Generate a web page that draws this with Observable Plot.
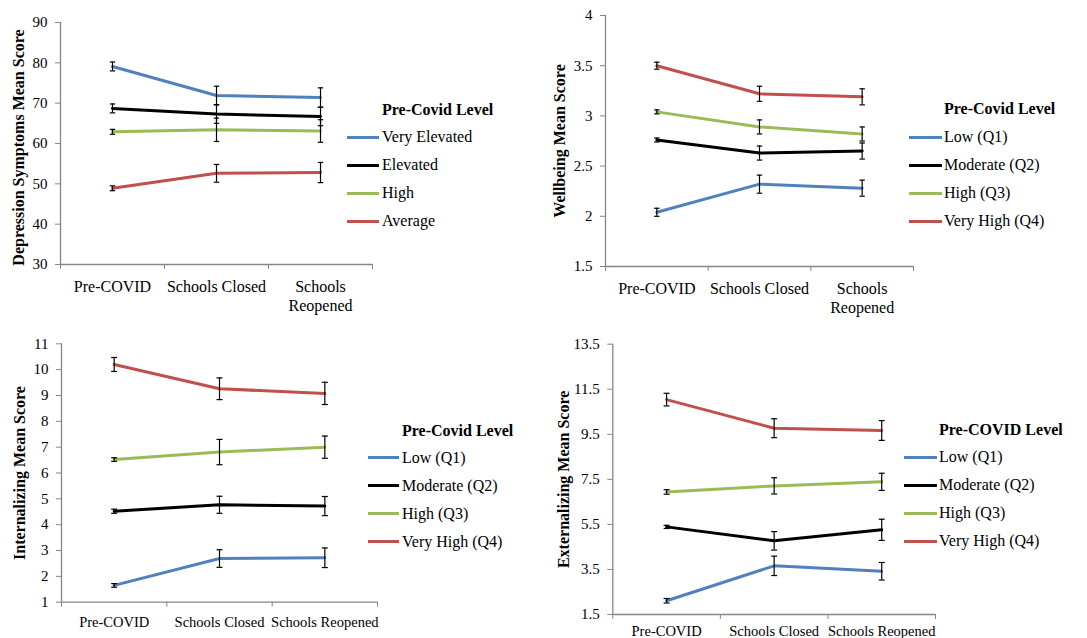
<!DOCTYPE html>
<html>
<head>
<meta charset="utf-8">
<script src="https://cdn.jsdelivr.net/npm/d3@7"></script>
<script src="https://cdn.jsdelivr.net/npm/@observablehq/plot@0.6"></script>
<style>
  html, body { margin: 0; padding: 0; background: #fff; overflow: hidden; }
  #root { position: relative; width: 1087px; height: 638px; font-family: 'Liberation Serif', 'Times New Roman', serif; color: #000; }
  .panel { position: absolute; }
  .lg-title { position: absolute; font-weight: bold; font-size: 16px; line-height: 20px; white-space: nowrap; }
  .lg-item { position: absolute; font-size: 16px; line-height: 20px; white-space: nowrap; }
  .lg-swatch { position: absolute; height: 3px; }
</style>
</head>
<body>
<div id="root"></div>
<script>
// ---------- data ----------
const periods = ["Pre-COVID", "Schools Closed", "Schools Reopened"];
const topTickLabels = ["Pre-COVID", "Schools Closed", "Schools\nReopened"];
const bottomTickLabels = ["Pre-COVID", "Schools Closed", "Schools Reopened"];

const depressionLevels = ["Very Elevated", "Elevated", "High", "Average"];
const quartileLevels = ["Low (Q1)", "Moderate (Q2)", "High (Q3)", "Very High (Q4)"];
const depressionColors = ["#4f81bd", "#000000", "#9bbb59", "#c0504d"];
const quartileColors = ["#4f81bd", "#000000", "#9bbb59", "#c0504d"];

const depressionMeans = [[79.1, 71.9, 71.4], [68.7, 67.3, 66.7], [62.9, 63.4, 63.1], [48.9, 52.6, 52.8]];
const depressionErrors = [[1.1, 2.3, 2.4], [1.1, 2.3, 2.3], [0.6, 2.9, 2.8], [0.6, 2.2, 2.5]];
const depressionTicks = [30, 40, 50, 60, 70, 80, 90];

const wellbeingMeans = [[2.04, 2.32, 2.28], [2.76, 2.63, 2.65], [3.04, 2.89, 2.82], [3.50, 3.22, 3.19]];
const wellbeingErrors = [[0.04, 0.09, 0.08], [0.02, 0.07, 0.08], [0.02, 0.07, 0.07], [0.035, 0.075, 0.08]];
const wellbeingTicks = [1.5, 2, 2.5, 3, 3.5, 4];

const internalizingMeans = [[1.65, 2.69, 2.72], [4.52, 4.77, 4.72], [6.52, 6.81, 7.0], [10.2, 9.26, 9.08]];
const internalizingErrors = [[0.07, 0.34, 0.38], [0.08, 0.33, 0.37], [0.07, 0.49, 0.43], [0.27, 0.42, 0.43]];
const internalizingTicks = [1, 2, 3, 4, 5, 6, 7, 8, 9, 10, 11];

const externalizingMeans = [[2.11, 3.66, 3.42], [5.39, 4.77, 5.26], [6.94, 7.21, 7.39], [11.04, 9.77, 9.67]];
const externalizingErrors = [[0.1, 0.43, 0.39], [0.07, 0.41, 0.47], [0.1, 0.36, 0.38], [0.28, 0.42, 0.44]];
const externalizingTicks = [1.5, 3.5, 5.5, 7.5, 9.5, 11.5, 13.5];

// ---------- drawing ----------
const gray = "#868686";
const root = document.getElementById("root");

function panel(cfg) {
  const data = [];
  cfg.levels.forEach((s, k) => cfg.means[k].forEach((v, i) => data.push({s, i, v, e: cfg.errors[k][i]})));
  const yMin = cfg.yTicks[0], yMax = cfg.yTicks[cfg.yTicks.length - 1];
  const cap = {draw(ctx) { ctx.moveTo(-cfg.cap, 0); ctx.lineTo(cfg.cap, 0); }};
  const svg = Plot.plot({
    width: cfg.width, height: cfg.height,
    marginLeft: cfg.mL, marginRight: cfg.mR, marginTop: cfg.mT, marginBottom: cfg.mB,
    style: {fontFamily: "'Liberation Serif', 'Times New Roman', serif", background: "transparent", overflow: "visible", color: "#000"},
    x: {domain: [-0.5, 2.5]},
    y: {domain: [yMin, yMax]},
    color: {domain: cfg.levels, range: cfg.colors},
    marks: [
      Plot.ruleY([yMin], {stroke: gray, strokeWidth: 1.3}),
      Plot.ruleX([-0.5], {stroke: gray, strokeWidth: 1.3}),
      Plot.axisY({ticks: cfg.yTicks, tickFormat: d => String(d), tickSize: 5, tickPadding: 8, stroke: gray, fill: "#000", fontSize: 15, label: null}),
      Plot.axisX({ticks: [-0.5, 0.5, 1.5, 2.5], tickFormat: () => "", tickSize: 5, stroke: gray, label: null}),
      Plot.axisX({ticks: [0, 1, 2], tickFormat: i => cfg.tickLabels[i], tickSize: 0, tickPadding: cfg.catPad, fontSize: cfg.catSize, fill: "#000", lineHeight: 1.2, label: null}),
      Plot.text([cfg.yLabel], {text: d => d, frameAnchor: "left", textAnchor: "middle", rotate: -90, dx: cfg.titleDx, dy: cfg.titleDy || 0, fontWeight: "bold", fontSize: 16, fill: "#000"}),
      Plot.line(data, {x: "i", y: "v", z: "s", stroke: "s", strokeWidth: 3}),
      Plot.ruleX(data, {x: "i", y1: d => d.v - d.e, y2: d => d.v + d.e, stroke: "#000", strokeWidth: 1.2}),
      Plot.dot(data, {x: "i", y: d => d.v + d.e, symbol: cap, fill: "none", stroke: "#000", strokeWidth: 1.2}),
      Plot.dot(data, {x: "i", y: d => d.v - d.e, symbol: cap, fill: "none", stroke: "#000", strokeWidth: 1.2})
    ]
  });
  const wrap = document.createElement("div");
  wrap.className = "panel";
  wrap.style.left = cfg.left + "px";
  wrap.style.top = cfg.top + "px";
  wrap.appendChild(svg);
  root.appendChild(wrap);

  // legend
  const t = document.createElement("div");
  t.className = "lg-title";
  t.textContent = cfg.legendTitle;
  t.style.left = cfg.lgText + "px";
  t.style.top = (cfg.lgTitleY - 10) + "px";
  root.appendChild(t);
  cfg.levels.forEach((s, k) => {
    const y = cfg.lgY0 + k * cfg.lgStep;
    const sw = document.createElement("div");
    sw.className = "lg-swatch";
    sw.style.left = cfg.lgLine0 + "px";
    sw.style.width = (cfg.lgLine1 - cfg.lgLine0) + "px";
    sw.style.top = (y - 1.5) + "px";
    sw.style.background = cfg.colors[k];
    root.appendChild(sw);
    const it = document.createElement("div");
    it.className = "lg-item";
    it.textContent = s;
    it.style.left = cfg.lgText + "px";
    it.style.top = (y - 10) + "px";
    root.appendChild(it);
  });
}

panel({
  left: 0, top: 0, width: 540, height: 320, mL: 60, mR: 168, mT: 22, mB: 56,
  yTicks: depressionTicks, means: depressionMeans, errors: depressionErrors,
  levels: depressionLevels, colors: depressionColors, tickLabels: topTickLabels,
  catPad: 14, catSize: 16, titleDx: -42, titleDy: 4, cap: 2.7,
  yLabel: "Depression Symptoms Mean Score", legendTitle: "Pre-Covid Level",
  lgText: 382, lgTitleY: 110, lgY0: 137, lgStep: 28, lgLine0: 347, lgLine1: 379
});
panel({
  left: 540, top: 0, width: 547, height: 320, mL: 65, mR: 174, mT: 15, mB: 54,
  yTicks: wellbeingTicks, means: wellbeingMeans, errors: wellbeingErrors,
  levels: quartileLevels, colors: quartileColors, tickLabels: topTickLabels,
  catPad: 13.5, catSize: 16, titleDx: -46, cap: 2.7,
  yLabel: "Wellbeing Mean Score", legendTitle: "Pre-Covid Level",
  lgText: 944, lgTitleY: 109, lgY0: 137, lgStep: 28, lgLine0: 909, lgLine1: 942
});
panel({
  left: 0, top: 320, width: 540, height: 318, mL: 61, mR: 163, mT: 23.3, mB: 36.3,
  yTicks: internalizingTicks, means: internalizingMeans, errors: internalizingErrors,
  levels: quartileLevels, colors: quartileColors, tickLabels: bottomTickLabels,
  catPad: 12, catSize: 14.5, titleDx: -42, cap: 3,
  yLabel: "Internalizing Mean Score", legendTitle: "Pre-Covid Level",
  lgText: 402, lgTitleY: 430.5, lgY0: 457.7, lgStep: 28, lgLine0: 368, lgLine1: 399
});
panel({
  left: 540, top: 320, width: 547, height: 318, mL: 72.3, mR: 152, mT: 23.7, mB: 24,
  yTicks: externalizingTicks, means: externalizingMeans, errors: externalizingErrors,
  levels: quartileLevels, colors: quartileColors, tickLabels: bottomTickLabels,
  catPad: 9.5, catSize: 14.5, titleDx: -49, cap: 3,
  yLabel: "Externalizing Mean Score", legendTitle: "Pre-COVID Level",
  lgText: 939, lgTitleY: 430, lgY0: 457.3, lgStep: 28, lgLine0: 904, lgLine1: 937
});
</script>
</body>
</html>
